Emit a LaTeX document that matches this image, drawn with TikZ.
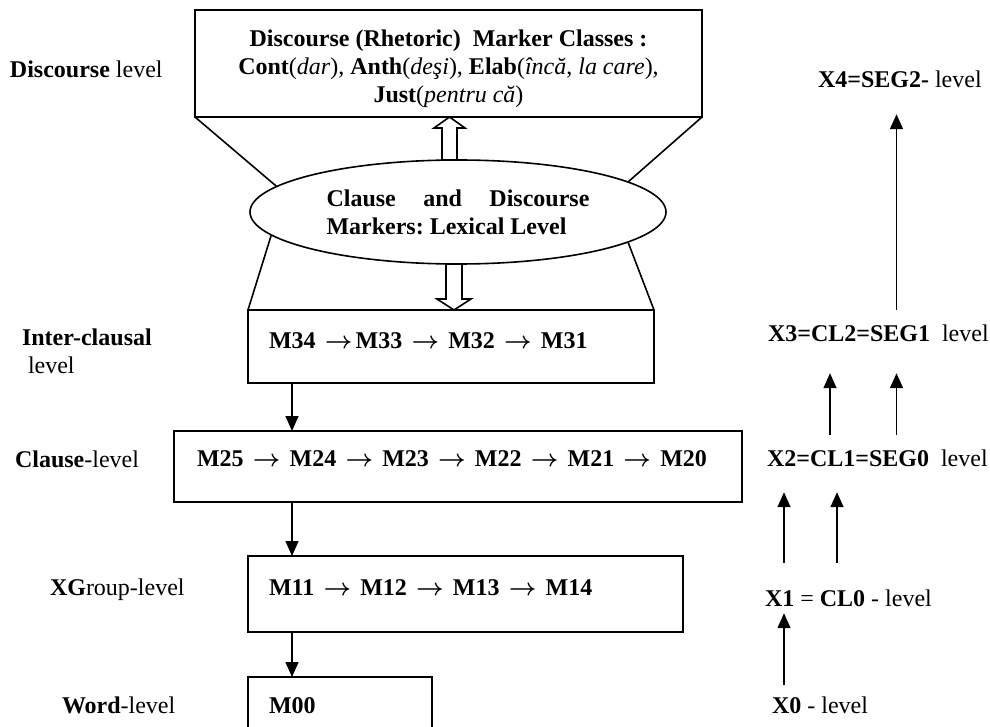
\documentclass[tikz,border=0pt]{standalone}
\usepackage{fontspec}
\setmainfont{Liberation Serif}
\usetikzlibrary{shapes.geometric,arrows.meta,calc}
\newcommand{\myarr}{\hspace{1.6pt}\ensuremath{\rightarrow}\hspace{1.6pt}}
\begin{document}
\frenchspacing
\begin{tikzpicture}[x=0.5pt,y=-0.5pt,
  every node/.style={font=\fontsize{12}{14}\selectfont, inner sep=0pt, outer sep=0pt},
  box/.style={draw, line width=0.9pt, rectangle},
  lab/.style={anchor=base west},
  blab/.style={anchor=base west, font=\fontsize{12}{14}\selectfont\bfseries\boldmath},
  arr/.style={line width=0.8pt, -{Triangle[length=7.5pt,width=6.5pt]}},
  hollow/.style={draw, line width=0.8pt, line join=miter},
  funnel/.style={line width=0.8pt}]
\clip (0,0) rectangle (990,727);

% boxes
\node[box, minimum width=253.5pt, minimum height=53.5pt] (top) at (448.5,63.5) {};
\node[align=center] (toptext) at (448.5,68.5) {\textbf{Discourse (Rhetoric)\ \ Marker Classes :}\\ \textbf{Cont}(\textit{dar}), \textbf{Anth}(\textit{deşi}), \textbf{Elab}(\textit{încă}, \textit{la care}),\\ \textbf{Just}(\textit{pentru că})};
\node[draw, ellipse, line width=0.8pt, minimum width=208pt, minimum height=52pt] (ell) at (458,212) {\parbox{131.5pt}{\bfseries Clause\hfill and\hfill Discourse\\ Markers: Lexical Level}};

\node[box, minimum width=203pt, minimum height=36.5pt] (inter) at (451,346.5) {};
\node[blab] (intertext) at (269,348) {M34 \myarr M33 \myarr{} M32 \myarr{} M31};
\node[box, minimum width=284pt, minimum height=35.5pt] (clause) at (458,466.5) {};
\node[blab] (clausetext) at (197,466) {M25 \myarr{} M24 \myarr{} M23 \myarr{} M22 \myarr{} M21 \myarr{} M20};
\node[box, minimum width=217.5pt, minimum height=38pt] (xgroup) at (465.5,594) {};
\node[blab] (xgrouptext) at (269,595) {M11 \myarr{} M12 \myarr{} M13 \myarr{} M14};
\node[box, minimum width=92pt, minimum height=31.5pt] (m00) at (340,708.5) {};
\node[blab] (m00text) at (269,713) {M00};

% left labels
\node[lab] (ldisc) at (10,78) {\textbf{Discourse} level};
\node[lab] (linter) at (22,345) {\textbf{Inter-clausal}};
\node[lab] (linter2) at (28,373) {level};
\node[lab] (lclause) at (15,467) {\textbf{Clause}-level};
\node[lab] (lxgroup) at (50,595) {\textbf{XG}roup-level};
\node[lab] (lword) at (62,713) {\textbf{Word}-level};

% right labels
\node[lab] (x4) at (818,88) {\textbf{X4=SEG2-} level};
\node[lab] (x3) at (768,341) {\textbf{X3=CL2=SEG1}\ \ level};
\node[lab] (x2) at (767,466) {\textbf{X2=CL1=SEG0}\ \ level};
\node[lab] (x1) at (765,606) {\textbf{X1} = \textbf{CL0} - level};
\node[lab] (x0) at (772,713) {\textbf{X0} - level};

% funnel lines
\draw[funnel] (top.south west) -- (ell.172.2);
\draw[funnel] (top.south east) -- (ell.10.3);
\draw[funnel] (ell.187.7) -- (inter.north west);
\draw[funnel] (ell.350.3) -- (inter.north east);

% hollow arrows
\coordinate (upx) at (449.5,0);
\coordinate (dnx) at (454,0);
\draw[hollow] (upx |- top.south) -- ++(15.5,11) -- ++(-8,0) -- ++(0,32) -- ++(-15,0) -- ++(0,-32) -- ++(-8,0) -- cycle;
\draw[hollow] (dnx |- inter.north) -- ++(17,-11) -- ++(-9,0) -- ++(0,-35) -- ++(-16,0) -- ++(0,35) -- ++(-9,0) -- cycle;

% left column arrows
\coordinate (lx) at (292,0);
\draw[arr] (inter.south -| lx) -- (clause.north -| lx);
\draw[arr] (clause.south -| lx) -- (xgroup.north -| lx);
\draw[arr] (xgroup.south -| lx) -- (m00.north -| lx);

% right column arrows
\coordinate (r1) at (784,0);
\coordinate (r2) at (837,0);
\coordinate (r3) at (830,0);
\coordinate (r4) at (896.5,0);
\draw[arr, shorten <=5.8pt, shorten >=3.5pt] (x0.north -| r1) -- (x1.south -| r1);
\draw[arr, shorten <=13.3pt, shorten >=13pt] (x1.north -| r1) -- (x2.south -| r1);
\draw[arr, shorten <=13.3pt, shorten >=13pt] (x1.north -| r2) -- (x2.south -| r2);
\draw[arr, shorten <=7.3pt, shorten >=16pt] (x2.north -| r3) -- (x3.south -| r3);
\draw[arr, shorten <=7.3pt, shorten >=16pt] (x2.north -| r4) -- (x3.south -| r4);
\draw[arr, shorten <=7.3pt, shorten >=13pt] (x3.north -| r4) -- (x4.south -| r4);
\end{tikzpicture}
\end{document}
